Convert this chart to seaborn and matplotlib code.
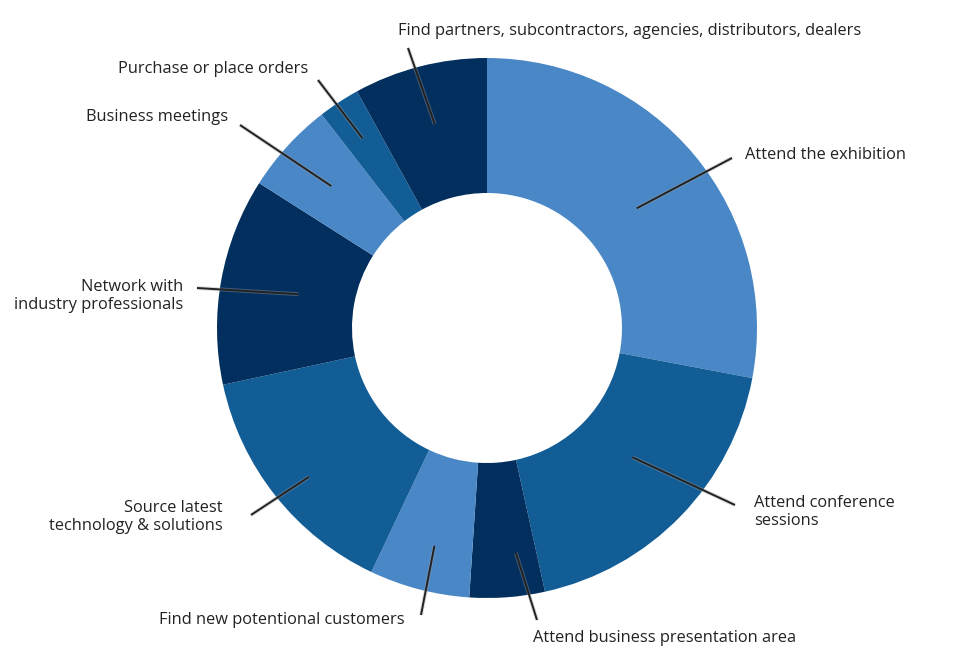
import numpy as np
import matplotlib
matplotlib.use("Agg")
import matplotlib.pyplot as plt
import matplotlib.patheffects as pe
import seaborn as sns

# data (share of visitors, %), clockwise from 12 o'clock
labels = ['Attend the exhibition', 'Attend conference\nsessions',
          'Attend business presentation area', 'Find new potentional customers',
          'Source latest\ntechnology & solutions', 'Network with\nindustry professionals',
          'Business meetings', 'Purchase or place orders',
          'Find partners, subcontractors, agencies, distributors, dealers']
values = [28.0, 18.6, 4.5, 6.0, 14.6, 12.4, 5.5, 2.5, 8.0]

light, mid, dark = '#4a87c6', '#125d96', '#022f5e'
colors = [light, mid, dark, light, mid, dark, light, mid, dark]

sns.set_theme(style='white')
plt.rcParams['font.family'] = ['Open Sans', 'DejaVu Sans']

# pixel layout helpers (figure 975x666, centre at 487,328, radius 270 px)
CX, CY, R = 487, 328, 270.0
def px(x, y):
    return (x - CX) / R, (CY - y) / R

fig = plt.figure(figsize=[9.75, 6.66], dpi=100)
ax = fig.add_axes([0, 0, 1, 1])
ax.pie(values, colors=colors, startangle=90, counterclock=False, radius=1,
       wedgeprops=dict(width=0.5, linewidth=0))
ax.set_xlim(-CX / R, (975 - CX) / R)
ax.set_ylim(-(666 - CY) / R, CY / R)
ax.set_aspect('equal')
ax.axis('off')

# leader lines: start inside the ring near the slice mid-angle
line_r = [0.71, 0.72, 0.84, 0.83, 0.86, 0.71, 0.78, 0.84, 0.78]
line_da = [-1, 2.5, 3, 1, 1.5, 0, 0, 0, 0]   # small angle nudges (deg)
line_end = [(732, 158), (735, 505), (537, 620), (421, 615), (251, 515),
            (197, 288), (240, 125), (318, 80), (408, 48)]
text_pos = [(745, 155, 'left'), (754, 512, 'left'), (533, 638, 'left'),
            (405, 620, 'right'), (223, 517, 'right'), (183, 296, 'right'),
            (228, 117, 'right'), (308, 69, 'right'), (398, 31, 'left')]

cum = np.cumsum([0] + values)
total = cum[-1]
for i, lab in enumerate(labels):
    ang = np.deg2rad(90 - 360 * (cum[i] + values[i] / 2) / total + line_da[i])
    x0, y0 = line_r[i] * np.cos(ang), line_r[i] * np.sin(ang)
    x1, y1 = px(*line_end[i])
    ax.plot([x0, x1], [y0, y1], color='#222222', lw=1.4, solid_capstyle='butt',
            path_effects=[pe.Stroke(linewidth=2.8, foreground='#a0a0a0', alpha=0.4), pe.Normal()])
    tx, ty, ha = text_pos[i]
    ax.text(*px(tx, ty), lab, ha=ha, va='center', fontsize=11.8, color='#222222',
            linespacing=1.1)

fig.savefig('out.png', dpi=100, facecolor='white')
